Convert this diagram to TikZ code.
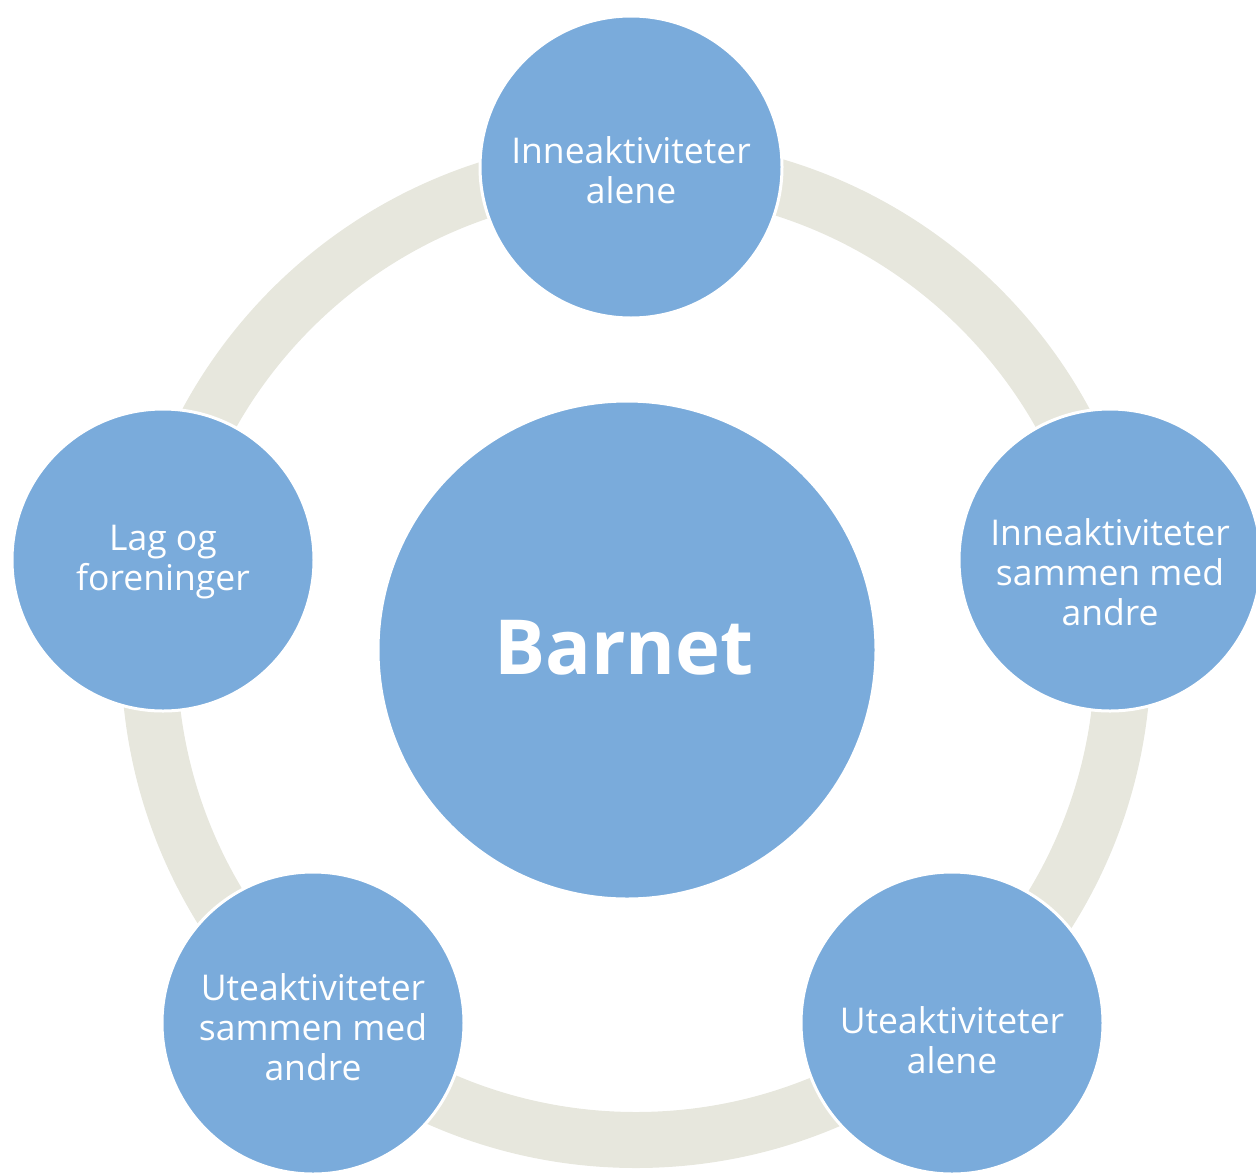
\documentclass[tikz,border=0pt]{standalone}
\usepackage{fontspec}
\setmainfont{Open Sans}
\definecolor{bub}{HTML}{7AABDB}
\definecolor{ringc}{HTML}{E7E7DD}
\begin{document}
\begin{tikzpicture}[x=1pt,y=-1pt,
  bubble/.style={circle, fill=bub, draw=white, line width=3pt, minimum size=302pt, inner sep=0pt},
  btext/.style={text=white, align=center, inner sep=0pt, font=\fontsize{35.5}{40}\selectfont}]
\useasboundingbox (0,0) rectangle (1256,1173);
\clip (0,0) rectangle (1256,1173);
\draw[ringc, line width=56pt] (636,653) circle[radius=487];
\node[bubble] (top) at (631,167) {};
\node[bubble] (right) at (1110,560) {};
\node[bubble] (br) at (952,1023) {};
\node[bubble] (bl) at (313,1023) {};
\node[bubble] (left) at (163,560) {};
\node[bubble, minimum size=498pt] (c) at (627,650) {};
\node[btext] (topt) at (631,170) {Inneaktiviteter\\alene};
\node[btext] (rightt) at (1110,572) {Inneaktiviteter\\sammen med\\andre};
\node[btext] (brt) at (952,1040) {Uteaktiviteter\\alene};
\node[btext] (blt) at (313,1027) {Uteaktiviteter\\sammen med\\andre};
\node[btext] (leftt) at (163,562) {Lag og\\foreninger};
\node[btext, font=\bfseries\fontsize{76}{80}\selectfont] (ct) at (624,648) {Barnet};
\end{tikzpicture}
\end{document}
